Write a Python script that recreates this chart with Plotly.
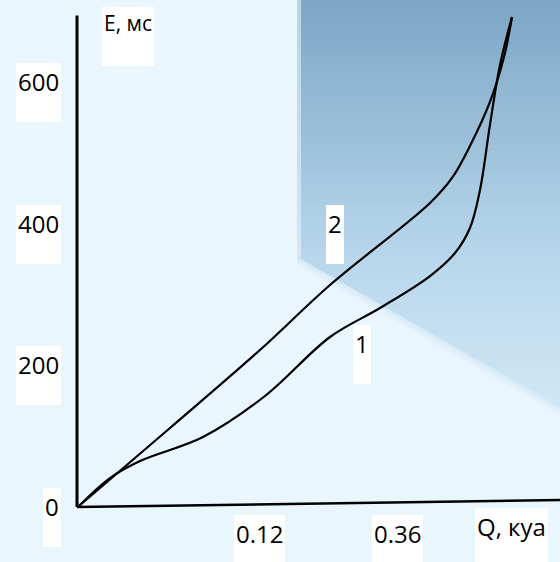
import plotly.graph_objects as go

# ---------------- data ----------------
curve2_q = [0.0022, 0.1046, 0.2058, 0.2846, 0.3971, 0.4218, 0.4420, 0.4645, 0.4803, 0.4893]
curve2_e = [1.4, 111.5, 221.6, 313.4, 429.2, 464.5, 509.6, 571.8, 635.3, 691.8]

curve1_q = [0.0022, 0.0371, 0.0709, 0.1417, 0.2115, 0.2846, 0.3408, 0.3971, 0.4252,
            0.4420, 0.4533, 0.4645, 0.4758, 0.4893]
curve1_e = [1.4, 40.9, 64.9, 98.8, 156.7, 240.0, 280.9, 326.1, 358.6,
            393.9, 447.5, 539.3, 624.0, 691.8]

ytick_vals = [0, 200, 400, 600]
ytick_text = ["0", "200", "400", "600"]
xtick_text = ["0.12", "0.36"]
xtick_at = [0.205, 0.361]
curve_labels = ["1", "2"]
curve_label_q = [0.321, 0.290]
curve_label_e = [229, 398]
x_title = "Q, куа"
y_title = "E, мс"

W, H = 560, 562
XR = [-0.08661, 0.54331]
YR = [-77.65, 715.76]

fig = go.Figure()

# ---------------- background panel (gradient approximated by strips) ----------------
def px(x):
    return x / W

def py(y):
    return 1 - y / H

def lerp(c0, c1, t):
    return tuple(int(round(a + (b - a) * t)) for a, b in zip(c0, c1))

top_c = (124, 166, 197)
mid_c = (184, 215, 236)
bot_c = (208, 231, 244)
X0, XE = 297, 560
CORNER_Y, END_Y = 257, 407

def xl(y):
    if y <= CORNER_Y:
        return X0
    return X0 + (y - CORNER_Y) * (XE - X0) / (END_Y - CORNER_Y)

shapes = []
step = 5
y = 0
while y < END_Y:
    y0 = y
    y1 = min(y + step + 1, END_Y)
    ym = (y0 + y1) / 2
    if ym <= CORNER_Y:
        c = lerp(top_c, mid_c, ym / CORNER_Y)
    else:
        c = lerp(mid_c, bot_c, (ym - CORNER_Y) / (END_Y - CORNER_Y))
    pts = [(xl(y0), y0), (XE, y0), (XE, y1), (xl(y1), y1)]
    if y0 < CORNER_Y < y1:
        pts.append((X0, CORNER_Y))
    path = "M " + " L ".join(f"{px(a):.5f},{py(b):.5f}" for a, b in pts) + " Z"
    shapes.append(dict(type="path", path=path, xref="paper", yref="paper",
                       fillcolor=f"rgb{c}", line=dict(width=0), layer="below"))
    y += step

# soft fade beneath the diagonal edge
for k, op in [(3, 0.45), (6, 0.3), (9, 0.15)]:
    pts = [(X0, CORNER_Y), (XE, END_Y), (XE, END_Y + k), (X0, CORNER_Y + k)]
    path = "M " + " L ".join(f"{px(a):.5f},{py(b):.5f}" for a, b in pts) + " Z"
    shapes.append(dict(type="path", path=path, xref="paper", yref="paper",
                       fillcolor=f"rgba{bot_c + (op,)}", line=dict(width=0), layer="below"))

# light highlight on the panel's left edge
shapes.append(dict(type="rect", xref="paper", yref="paper",
                   x0=px(X0), x1=px(X0 + 4), y0=py(CORNER_Y), y1=1,
                   fillcolor="rgba(235,246,253,0.55)", line=dict(width=0), layer="below"))

# ---------------- axes lines ----------------
shapes.append(dict(type="line", xref="x", yref="y", x0=0, y0=0, x1=0, y1=694,
                   line=dict(color="black", width=3)))
shapes.append(dict(type="line", xref="x", yref="y", x0=0, y0=0, x1=XR[1], y1=9.9,
                   line=dict(color="black", width=2.5)))

# ---------------- curves ----------------
for q, e in [(curve1_q, curve1_e), (curve2_q, curve2_e)]:
    fig.add_trace(go.Scatter(x=q, y=e, mode="lines",
                             line=dict(color="black", width=2.2, shape="spline", smoothing=1.0),
                             hoverinfo="skip", showlegend=False))

# ---------------- text boxes ----------------
FONT = "Open Sans"
annots = []
box = dict(bgcolor="white", borderpad=2, borderwidth=0, showarrow=False,
           valign="top", height=55)

for v, t in zip(ytick_vals, ytick_text):
    annots.append(dict(text=t, xref="paper", x=61 / W, xanchor="right",
                       yref="y", y=v, yanchor="top", yshift=19,
                       font=dict(family=FONT, size=24, color="black"), **box))

for q, t in zip(xtick_at, xtick_text):
    annots.append(dict(text=t, xref="x", x=q, xanchor="center",
                       yref="y", y=0, yanchor="top", yshift=-8,
                       font=dict(family=FONT, size=24, color="black"), **box))

for q, e, t in zip(curve_label_q, curve_label_e, curve_labels):
    annots.append(dict(text=t, xref="x", x=q, xanchor="center",
                       yref="y", y=e, yanchor="top", yshift=20,
                       font=dict(family=FONT, size=24, color="black"), **box))

annots.append(dict(text=x_title, xref="x", x=0.489, xanchor="center",
                   yref="y", y=0, yanchor="top", yshift=-1,
                   font=dict(family=FONT, size=24, color="black"), **box))
annots.append(dict(text=y_title, xref="x", x=0.028, xanchor="left",
                   yref="y", y=692, yanchor="top", yshift=10,
                   font=dict(family=FONT, size=21, color="black"), **box))

fig.update_layout(
    width=W, height=H, autosize=False,
    margin=dict(l=0, r=0, t=0, b=0),
    paper_bgcolor="#E9F6FE", plot_bgcolor="rgba(0,0,0,0)",
    xaxis=dict(range=XR, visible=False, fixedrange=True),
    yaxis=dict(range=YR, visible=False, fixedrange=True),
    shapes=shapes, annotations=annots,
)

fig.write_html("out.html", config={"displayModeBar": False},
               post_script="document.body.style.margin='0';document.body.style.overflow='hidden';")
